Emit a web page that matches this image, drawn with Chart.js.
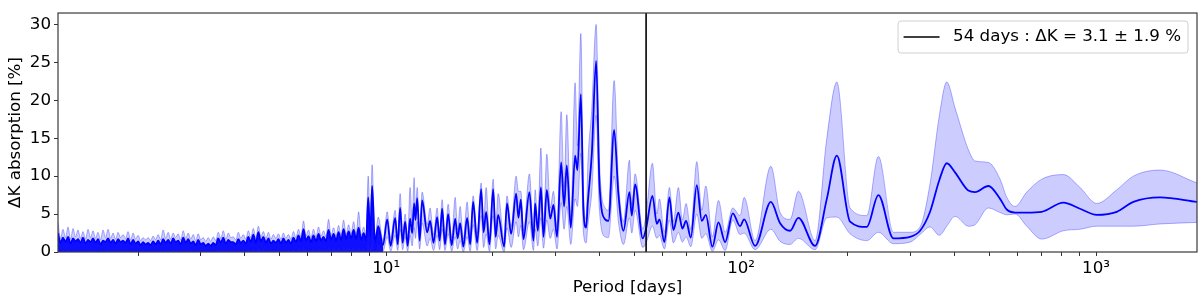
<!DOCTYPE html>
<html>
<head>
<meta charset="utf-8">
<script src="https://cdn.jsdelivr.net/npm/chart.js@4.4.0/dist/chart.umd.min.js"></script>
<style>
  html, body { margin: 0; padding: 0; background: #fff; }
  #contenedor { width: 1200px; height: 303px; position: relative; }
</style>
</head>
<body>
<div id="contenedor"><canvas id="grafico"></canvas></div>
<script>
// Periodo en dias (eje X, logaritmico)
const periodo = [
  1.190,1.210,1.229,1.250,1.270,1.291,1.312,1.333,1.355,1.377,
  1.400,1.423,1.446,1.470,1.494,1.518,1.543,1.568,1.594,1.620,
  1.647,1.674,1.701,1.729,1.757,1.786,1.815,1.845,1.875,1.906,
  1.937,1.969,2.001,2.034,2.067,2.101,2.135,2.170,2.206,2.242,
  2.279,2.316,2.354,2.393,2.432,2.472,2.512,2.553,2.595,2.638,
  2.681,2.725,2.769,2.815,2.861,2.908,2.955,3.004,3.053,3.103,
  3.154,3.205,3.258,3.311,3.365,3.421,3.477,3.534,3.592,3.650,
  3.710,3.771,3.833,3.896,3.959,4.024,4.090,4.157,4.225,4.295,
  4.365,4.437,4.510,4.584,4.659,4.735,4.813,4.892,4.972,5.053,
  5.136,5.220,5.306,5.393,5.481,5.571,5.663,5.756,5.850,5.946,
  6.043,6.142,6.243,6.346,6.450,6.555,6.663,6.772,6.883,6.996,
  7.111,7.227,7.346,7.466,7.589,7.713,7.840,7.968,8.099,8.232,
  8.367,8.504,8.643,8.785,8.900,9.020,9.130,9.300,9.500,9.800,
  10.07,10.30,10.60,10.78,10.95,11.13,11.31,11.50,11.68,11.84,
  11.99,12.10,12.23,12.43,12.63,13.05,13.30,13.60,13.92,14.15,
  14.38,14.65,14.95,15.30,15.65,15.90,16.16,16.50,16.91,17.25,
  17.58,18.05,18.52,18.82,19.13,19.55,20.02,20.35,20.68,21.50,
  21.90,22.50,23.24,23.59,23.96,24.37,25.33,26.00,26.29,26.75,
  27.29,27.75,28.36,29.00,29.60,30.30,31.12,31.72,32.28,33.13,
  34.07,34.59,35.36,35.97,36.60,37.01,37.98,39.05,39.90,41.40,
  42.30,43.89,45.12,46.63,48.47,49.22,50.28,52.84,54.00,56.27,
  57.89,58.88,60.81,62.81,64.46,66.59,68.34,69.99,72.16,75.02,
  77.50,79.54,83.02,86.35,90.18,94.76,99.36,101.97,109.5,121.3,
  128.8,137.4,145.0,161.6,174.4,186.1,202.8,226.0,243.7,268.5,
  299.3,319.3,340.7,361.9,379.7,400.6,436.8,456.2,497.4,536.6,
  560.5,591.4,638.1,703.1,809.0,901.4,1004.6,1144,1274,1515,
  1925
];

// Valor medio de la absorcion DeltaK [%]
const deltaK = [
  2.5,1.2,1.9,1.3,2.0,1.1,1.8,1.4,1.7,1.2,
  1.9,1.1,1.6,1.3,1.8,1.2,1.7,1.0,1.5,1.3,
  1.8,1.2,1.6,1.1,1.7,1.3,1.5,1.2,1.8,1.0,
  1.6,1.1,1.4,0.9,1.3,1.0,1.2,0.9,1.4,1.0,
  1.5,1.0,1.7,1.2,1.6,1.1,1.8,1.3,1.5,1.0,
  1.9,1.2,1.7,1.1,1.4,0.9,1.6,1.0,1.2,0.8,
  1.1,0.8,1.2,0.9,1.8,1.2,1.9,1.1,1.6,1.3,
  1.3,1.0,1.7,1.2,1.5,1.1,2.0,1.3,2.3,1.2,
  2.6,1.4,2.0,1.2,1.8,1.1,1.5,1.2,1.7,1.1,
  1.8,1.2,1.6,1.1,1.9,1.3,2.2,1.4,3.0,1.5,
  2.1,1.3,2.2,1.4,2.4,1.5,2.0,1.4,2.9,1.6,
  2.4,1.5,2.6,1.6,3.0,1.7,2.7,1.8,2.9,1.7,
  3.2,1.6,2.5,1.5,7.2,2.0,8.7,1.3,3.4,0.9,
  4.3,0.8,4.5,1.0,5.8,1.2,4.0,0.8,4.4,2.5,
  6.4,4.2,7.1,1.5,6.8,2.6,4.1,1.2,4.6,1.5,
  5.7,1.0,5.0,0.9,4.4,1.8,3.8,0.7,4.5,1.0,
  6.6,1.2,8.3,2.6,5.3,1.0,8.3,2.0,4.9,0.7,
  6.4,2.4,7.7,4.5,6.9,1.7,7.9,1.5,6.4,2.8,
  8.5,2.0,8.2,4.4,6.2,2.0,11.8,6.0,11.4,3.2,
  12.7,10.8,20.8,5.5,3.2,6.6,13.0,25.2,9.1,4.3,
  4.1,16.1,7.6,2.8,7.9,4.8,8.9,1.8,3.1,7.4,
  3.7,4.3,1.3,7.2,2.9,5.2,3.1,4.1,1.9,8.8,
  4.1,4.9,0.7,3.9,1.3,5.1,3.4,4.3,0.8,6.6,
  3.8,2.8,4.5,0.8,7.0,12.7,4.0,3.3,7.5,1.8,
  2.0,2.8,5.3,9.5,11.7,10.5,8.1,7.9,8.7,7.0,
  5.6,5.2,5.2,5.3,6.5,5.7,4.9,5.3,6.6,7.2,
  6.6
];

// Limite superior de la banda
const deltaKSup = [
  3.9,1.8,3.0,1.9,3.3,1.7,3.1,2.0,2.9,1.8,
  2.7,1.7,3.0,1.9,2.8,1.8,2.6,1.6,2.9,1.9,
  3.0,1.8,2.5,1.7,2.6,1.9,2.3,1.8,2.7,1.6,
  2.5,1.7,2.2,1.5,1.9,1.6,1.9,1.5,2.1,1.6,
  2.3,1.6,2.9,1.8,2.6,1.7,2.5,1.9,2.4,1.6,
  2.8,1.8,2.5,1.7,2.3,1.5,2.4,1.6,1.9,1.4,
  1.9,1.4,2.0,1.5,2.6,1.8,2.8,1.7,2.5,1.9,
  2.0,1.6,2.6,1.8,2.3,1.7,2.8,1.9,3.1,1.8,
  3.4,2.0,2.7,1.8,2.6,1.7,2.3,1.8,2.4,1.7,
  2.5,1.8,2.3,1.7,2.7,1.9,3.0,2.0,4.1,2.1,
  2.9,1.9,3.0,2.0,3.3,2.1,2.8,2.0,4.3,2.2,
  3.2,2.1,3.5,2.2,4.2,2.3,3.6,2.4,4.0,2.3,
  5.3,2.2,3.3,2.1,10.0,3.2,11.5,1.9,4.6,1.5,
  5.3,1.8,5.5,2.0,7.7,2.2,5.0,1.9,8.5,3.8,
  9.8,5.5,8.5,2.8,7.9,3.6,5.8,2.3,5.8,2.6,
  6.9,2.0,6.3,1.9,7.2,2.9,6.0,1.7,6.6,2.1,
  7.4,2.4,9.1,3.8,8.5,2.2,9.6,3.2,7.7,1.6,
  7.4,3.4,10.0,8.0,8.0,2.8,10.3,2.6,8.2,3.8,
  13.7,3.2,12.9,5.8,8.0,3.3,18.5,8.5,18.1,4.5,
  22.3,14.0,28.8,8.0,4.4,11.7,19.0,30.0,12.0,5.8,
  5.5,22.6,9.5,4.0,12.1,6.2,10.3,3.0,5.0,11.7,
  5.0,7.0,2.6,8.5,4.0,8.5,4.2,6.4,3.0,11.9,
  5.5,8.7,2.0,6.8,2.6,5.8,4.8,7.2,1.5,11.3,
  5.2,4.3,8.0,1.5,15.0,22.4,5.8,4.8,12.6,2.6,
  2.6,3.3,9.0,18.0,22.4,19.0,13.5,12.0,11.8,9.6,
  7.2,6.0,7.9,9.6,10.2,8.5,6.4,8.2,10.0,10.8,
  9.1
];

// Limite inferior de la banda
const deltaKInf = [
  0.6,0.1,0.4,0.2,0.5,0.1,0.4,0.2,0.3,0.1,
  0.4,0.1,0.3,0.2,0.4,0.1,0.3,0.0,0.3,0.2,
  0.4,0.1,0.3,0.0,0.4,0.2,0.3,0.1,0.4,0.0,
  0.3,0.1,0.3,0.0,0.3,0.1,0.2,0.0,0.3,0.1,
  0.3,0.0,0.4,0.2,0.4,0.1,0.4,0.2,0.3,0.0,
  0.4,0.2,0.4,0.1,0.3,0.0,0.3,0.1,0.2,0.0,
  0.2,0.0,0.2,0.0,0.4,0.2,0.5,0.1,0.4,0.2,
  0.3,0.1,0.4,0.2,0.3,0.1,0.5,0.2,0.6,0.2,
  0.7,0.3,0.5,0.2,0.4,0.1,0.3,0.2,0.4,0.1,
  0.4,0.2,0.4,0.1,0.5,0.2,0.6,0.3,0.9,0.3,
  0.5,0.2,0.6,0.3,0.6,0.3,0.5,0.3,0.8,0.3,
  0.7,0.3,0.7,0.3,0.9,0.4,0.8,0.4,0.8,0.3,
  1.0,0.3,0.6,0.3,3.5,0.6,4.5,0.2,1.2,0.1,
  2.0,0.1,2.2,0.2,3.0,0.3,2.0,0.1,2.2,0.8,
  3.2,1.8,4.0,0.4,3.8,0.8,1.8,0.2,2.2,0.3,
  3.0,0.2,2.4,0.1,2.0,0.4,1.5,0.0,2.0,0.1,
  3.6,0.2,4.8,0.6,2.4,0.1,4.8,0.4,2.2,0.0,
  3.2,0.6,4.0,2.0,3.5,0.3,4.0,0.2,3.0,0.8,
  4.5,0.5,4.2,1.8,3.0,0.4,6.5,3.0,6.0,1.0,
  7.0,6.0,13.0,2.5,1.2,3.5,8.0,18.0,5.5,2.0,
  1.9,10.0,4.0,1.0,4.5,2.5,5.5,0.6,1.2,3.4,
  1.8,2.2,0.4,4.2,1.2,2.6,1.3,2.0,0.7,5.0,
  1.8,2.4,0.1,1.6,0.2,4.2,2.3,2.5,0.3,3.0,
  1.4,1.0,1.8,0.3,4.5,4.6,2.4,1.5,2.6,1.1,
  1.3,2.3,3.3,2.2,3.4,4.7,3.4,3.6,5.8,5.2,
  4.9,5.0,3.4,1.7,2.8,3.0,3.4,3.4,3.4,3.7,
  3.9
];

// Periodo marcado con la linea vertical y su etiqueta
const periodoMarcado = 54;
const etiquetaMarcada = '54 days : ΔK = 3.1 ± 1.9 %';

// Hasta este periodo la curva oscila mas rapido que un pixel (zona rellena)
const periodoZonaDensa = 9.9;

// Ticks de los ejes
const ticksX = [2,3,4,5,6,7,8,9,10,20,30,40,50,60,70,80,90,100,200,300,400,500,600,700,800,900,1000];
const etiquetasX = { 10: '10¹', 100: '10²', 1000: '10³' };
const ticksY = [0, 5, 10, 15, 20, 25, 30];
const limitesX = [1.19, 1925];
const limitesY = [0, 31.5];

const tamLetra = 16.7;

console.log('largos:', periodo.length, deltaK.length, deltaKSup.length, deltaKInf.length);

function puntos(valores) {
  return periodo.map((p, i) => ({ x: p, y: valores[i] }));
}

// Marco del grafico y leyenda dentro del area
const marcoYLeyenda = {
  id: 'marcoYLeyenda',
  afterDatasetsDraw(chart) {
    const ctx = chart.ctx;
    const a = chart.chartArea;
    ctx.save();
    ctx.strokeStyle = '#3a3a3a';
    ctx.lineWidth = 1.2;
    ctx.strokeRect(a.left, a.top, a.right - a.left, a.bottom - a.top);

    ctx.font = tamLetra + 'px "DejaVu Sans"';
    const anchoTexto = ctx.measureText(etiquetaMarcada).width;
    const ancho = 55 + anchoTexto + 7;
    const alto = 32;
    const x0 = a.right - 9 - ancho;
    const y0 = a.top + 8;
    ctx.beginPath();
    if (ctx.roundRect) ctx.roundRect(x0, y0, ancho, alto, 3);
    else ctx.rect(x0, y0, ancho, alto);
    ctx.fillStyle = 'rgba(255,255,255,0.85)';
    ctx.fill();
    ctx.strokeStyle = '#d0d0d0';
    ctx.lineWidth = 1;
    ctx.stroke();

    const yc = y0 + alto / 2;
    ctx.beginPath();
    ctx.moveTo(x0 + 5.5, yc);
    ctx.lineTo(x0 + 41.5, yc);
    ctx.strokeStyle = '#000';
    ctx.lineWidth = 1.5;
    ctx.stroke();

    ctx.fillStyle = '#000';
    ctx.textBaseline = 'middle';
    ctx.textAlign = 'left';
    ctx.fillText(etiquetaMarcada, x0 + 55, yc);
    ctx.restore();
  }
};

Chart.defaults.font.family = '"DejaVu Sans", sans-serif';
Chart.defaults.font.size = tamLetra;
Chart.defaults.color = '#000';

const ctx = document.getElementById('grafico').getContext('2d');
const grafico = new Chart(ctx, {
  type: 'line',
  data: {
    datasets: [
      {
        label: etiquetaMarcada,
        data: [{ x: periodoMarcado, y: limitesY[0] }, { x: periodoMarcado, y: limitesY[1] }],
        borderColor: '#000',
        borderWidth: 1.6,
        pointRadius: 0,
        fill: false
      },
      {
        label: 'media',
        data: puntos(deltaK),
        borderColor: '#0000ff',
        backgroundColor: 'rgba(0,0,0,0)',
        borderWidth: 1.8,
        pointRadius: 0,
        cubicInterpolationMode: 'monotone',
        fill: 'origin',
        segment: {
          // relleno azul solo donde la oscilacion no se resuelve
          backgroundColor: c => c.p1.parsed.x <= periodoZonaDensa ? 'rgba(0,0,255,0.92)' : 'rgba(0,0,0,0)'
        }
      },
      {
        label: 'superior',
        data: puntos(deltaKSup),
        borderColor: 'rgba(0,0,255,0.3)',
        backgroundColor: 'rgba(0,0,255,0.2)',
        borderWidth: 1,
        pointRadius: 0,
        cubicInterpolationMode: 'monotone',
        fill: '+1'
      },
      {
        label: 'inferior',
        data: puntos(deltaKInf),
        borderColor: 'rgba(0,0,255,0.3)',
        borderWidth: 1,
        pointRadius: 0,
        cubicInterpolationMode: 'monotone',
        fill: false
      }
    ]
  },
  options: {
    responsive: true,
    maintainAspectRatio: false,
    animation: false,
    layout: { padding: { top: 4, right: 3, left: 0, bottom: 0 } },
    plugins: {
      legend: { display: false },
      tooltip: { enabled: false }
    },
    scales: {
      x: {
        type: 'logarithmic',
        min: limitesX[0],
        max: limitesX[1],
        afterBuildTicks: s => { s.ticks = ticksX.map(v => ({ value: v, major: v in etiquetasX })); },
        afterFit: s => { s.height = 51; },
        ticks: {
          autoSkip: false,
          maxRotation: 0,
          padding: 3,
          callback: v => etiquetasX[v] || ''
        },
        grid: { drawOnChartArea: false, drawTicks: true, tickLength: 4, tickColor: '#333' },
        border: { display: false },
        title: { display: true, text: 'Period [days]', padding: { top: 0, bottom: 5.5 } }
      },
      y: {
        type: 'linear',
        min: limitesY[0],
        max: limitesY[1],
        afterBuildTicks: s => { s.ticks = ticksY.map(v => ({ value: v })); },
        afterFit: s => { s.width = 58; },
        ticks: { padding: 3 },
        grid: { drawOnChartArea: false, drawTicks: true, tickLength: 4, tickColor: '#333' },
        border: { display: false },
        title: { display: true, text: 'ΔK absorption [%]', padding: { top: 5.5, bottom: 0 } }
      }
    }
  },
  plugins: [marcoYLeyenda]
});
</script>
</body>
</html>
